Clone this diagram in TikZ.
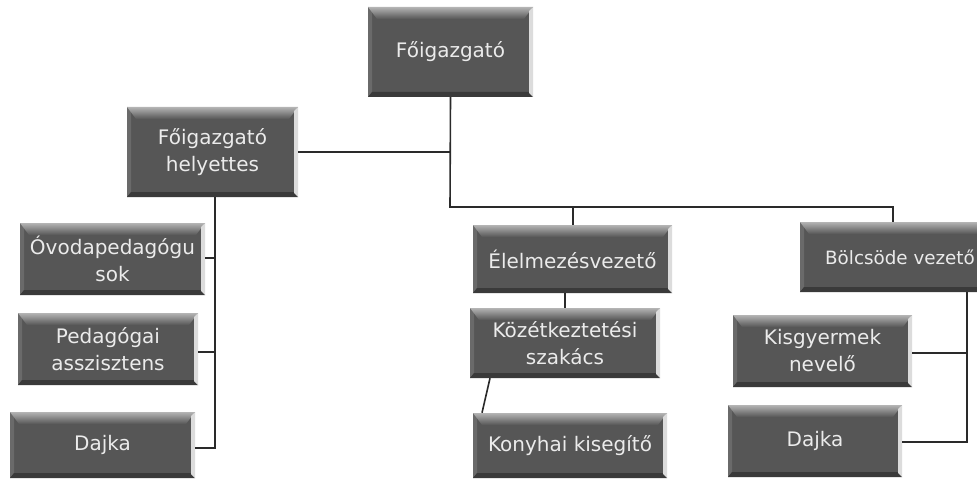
\documentclass[tikz,border=0pt]{standalone}
\usepackage{fontspec}
\setmainfont{DejaVu Sans}
\definecolor{boxgrey}{HTML}{565656}
\definecolor{bevtop}{HTML}{B4B4B4}
\definecolor{bevright}{HTML}{DCDCDC}
\definecolor{bevbot}{HTML}{3A3A3A}
\definecolor{bevleft}{HTML}{6A6A6A}
\definecolor{linecol}{HTML}{2A2A2A}
\begin{document}
\begin{tikzpicture}[x=1pt,y=-1pt,
  orgbox/.style={rectangle, inner sep=0pt, align=center,
    text=white!92!black, font=\fontsize{20}{27}\selectfont,
    path picture={
      \fill[boxgrey] (path picture bounding box.south west) rectangle (path picture bounding box.north east);
      \fill[bevleft] (path picture bounding box.north west) -- ([xshift=4pt,yshift=-4pt]path picture bounding box.north west) -- ([xshift=4pt,yshift=4pt]path picture bounding box.south west) -- (path picture bounding box.south west) -- cycle;
      \fill[bevbot] (path picture bounding box.south west) -- ([xshift=4pt,yshift=5pt]path picture bounding box.south west) -- ([xshift=-4pt,yshift=5pt]path picture bounding box.south east) -- (path picture bounding box.south east) -- cycle;
      \shade[top color=bevtop,bottom color=boxgrey] (path picture bounding box.north west) -- (path picture bounding box.north east) -- ([xshift=-9pt,yshift=-12pt]path picture bounding box.north east) -- ([xshift=9pt,yshift=-12pt]path picture bounding box.north west) -- cycle;
      \fill[bevright] (path picture bounding box.north east) -- (path picture bounding box.south east) -- ([xshift=-4pt,yshift=4pt]path picture bounding box.south east) -- ([xshift=-4pt,yshift=-4pt]path picture bounding box.north east) -- cycle;
    }},
  conn/.style={draw=linecol, line width=1.6pt}
]
\useasboundingbox (0,0) rectangle (977,484);
\fill[white] (0,0) rectangle (977,484);

\node[orgbox, minimum width=165pt, minimum height=90pt] (top) at (450.5,52) {Főigazgató};
\node[orgbox, minimum width=171pt, minimum height=90pt] (hely) at (212.5,152) {Főigazgató\\helyettes};
\node[orgbox, minimum width=185pt, minimum height=72pt] (ovo) at (112.5,259) {Óvodapedagógu\\sok};
\node[orgbox, minimum width=180pt, minimum height=72pt] (peda) at (108,349) {Pedagógai\\asszisztens};
\node[orgbox, minimum width=185pt, minimum height=66pt] (dajkaa) at (102.5,445) {Dajka};
\node[orgbox, minimum width=199pt, minimum height=68pt] (elel) at (572.5,259) {Élelmezésvezető};
\node[orgbox, minimum width=190pt, minimum height=70pt] (kozet) at (565,343) {Közétkeztetési\\szakács};
\node[orgbox, minimum width=194pt, minimum height=65pt] (konyha) at (570,445.5) {Konyhai kisegítő};
\node[orgbox, minimum width=200pt, minimum height=70pt, font=\fontsize{18.3}{24}\selectfont] (bolcs) at (900,257) {Bölcsöde vezető};
\node[orgbox, minimum width=179pt, minimum height=72pt] (kisgy) at (822.5,351) {Kisgyermek\\nevelő};
\node[orgbox, minimum width=174pt, minimum height=72pt] (dajkab) at (815,441) {Dajka};

\coordinate (j1) at (450,207);
\coordinate (j2) at (893,207);
\coordinate (j3) at (573,207);
\coordinate (hj) at (450,152);
\coordinate (lb) at (215,448);
\coordinate (rb) at (967,442);

% main trunk
\draw[conn] (top.south) -- (j1) -- (j2) -- (j2 |- bolcs.north);
\draw[conn] (hely.east |- hj) -- (hj);
\draw[conn] (j3) -- (j3 |- elel.north);
% left branch
\draw[conn] (hely.south -| lb) -- (lb) -- (dajkaa.east |- lb);
\draw[conn] (ovo.east |- 0,258) -- (215,258);
\draw[conn] (peda.east |- 0,352) -- (215,352);
% middle column
\draw[conn] (elel.south -| 565,0) -- (kozet.north -| 565,0);
\draw[conn] (kozet.south -| 490,0) -- (konyha.north -| 482,0);
% right branch
\draw[conn] (bolcs.south -| rb) -- (rb) -- (dajkab.east |- rb);
\draw[conn] (kisgy.east |- 0,353) -- (967,353);
\end{tikzpicture}
\end{document}
